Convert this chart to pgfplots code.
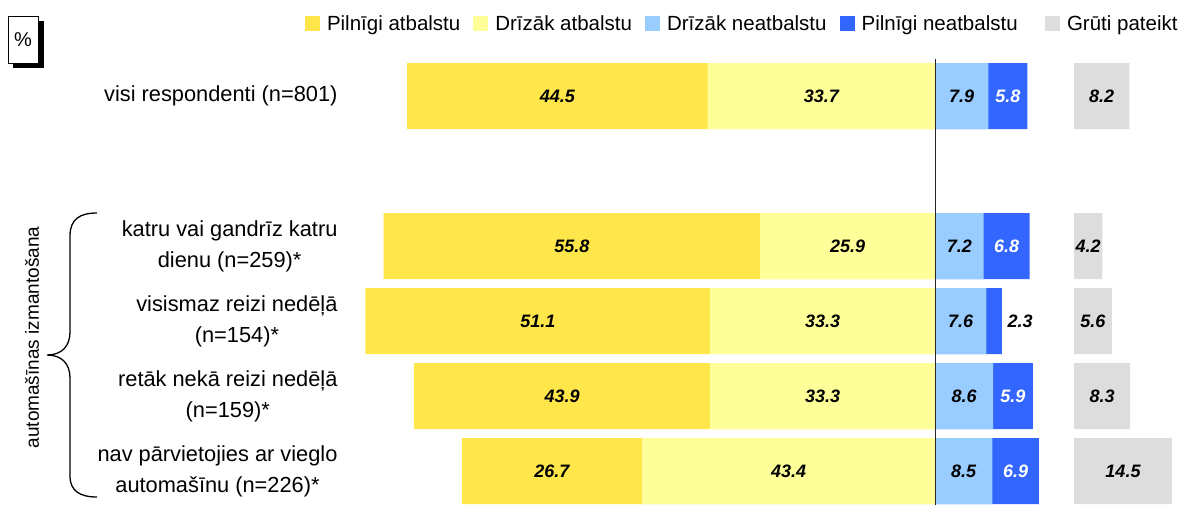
\documentclass[border=0pt]{standalone}
\usepackage{pgfplots}
\pgfplotsset{compat=1.18}
\usepackage{pgfplotstable}
\usepackage{fontspec}
\setmainfont{Liberation Sans}
\definecolor{cpa}{HTML}{FFE64B}
\definecolor{cda}{HTML}{FFFF99}
\definecolor{cdn}{HTML}{99CCFF}
\definecolor{cpn}{HTML}{3366FF}
\definecolor{cgp}{HTML}{DDDDDD}
\pgfplotstableread{
y pa da dn pn gp
0 44.5 33.7 7.9 5.8 8.2
2 55.8 25.9 7.2 6.8 4.2
3 51.1 33.3 7.6 2.3 5.6
4 43.9 33.3 8.6 5.9 8.3
5 26.7 43.4 8.5 6.9 14.5
}\data
\pgfplotsset{
  sq/.style={legend image code/.code={\fill[##1] (0pt,-7.5pt) rectangle (15pt,7.5pt);}},
  vlab/.style={only marks, mark=none, nodes near coords, point meta=explicit symbolic,
    nodes near coords align=center,
    every node near coord/.append style={anchor=center, font=\fontsize{18}{20}\selectfont\bfseries\itshape}},
}
\begin{document}
\begin{tikzpicture}[x=1pt,y=1pt]
\useasboundingbox (0,0) rectangle (1182,504);
% percent box
\fill[black] (13,436) rectangle (44,483);
\draw[fill=white, line width=0.8pt] (8,441) rectangle (38,488);
\node[font=\fontsize{20}{20}\selectfont] at (23,464.5) {\%};
% brace
\draw[line width=1.3pt] (97,291) .. controls (80,291) and (70,285) .. (70,268) -- (70,172)
  .. controls (70,158) and (62,149) .. (47,149)
  .. controls (62,149) and (70,140) .. (70,126) -- (70,28)
  .. controls (70,13) and (80,7) .. (97,7);
\node[rotate=90, font=\fontsize{19}{20}\selectfont] at (32,166.5) {automašīnas izmantošana};
\begin{axis}[
  at={(341pt,0pt)}, anchor=south west,
  scale only axis, width=837pt, height=475.5pt,
  xmin=-88, xmax=36, ymin=-0.9, ymax=5.44,
  y dir=reverse,
  axis line style={draw=none},
  major tick style={draw=none},
  xtick=\empty,
  ytick={0,2,3,4,5},
  yticklabels={visi respondenti (n=801), {katru vai gandrīz katru\\dienu (n=259)*}, {visismaz reizi nedēļā\\(n=154)*}, {retāk nekā reizi nedēļā\\(n=159)*}, {nav pārvietojies ar vieglo\\automašīnu (n=226)*}},
  yticklabel style={align=center, font=\fontsize{21.8}{31}\selectfont, text=black},
  bar width=0.88,
  sq,
  legend columns=-1,
  legend style={draw=none, fill=none, inner sep=0pt, outer sep=0pt, anchor=west,
    at={(-0.043,1.0105)}, font=\fontsize{20.5}{24}\selectfont,
    nodes={inner sep=0pt},
    /tikz/every odd column/.append style={column sep=7pt},
    /tikz/every even column/.append style={column sep=13pt}},
]
\addplot[xbar, fill=cpa, draw=none, forget plot] table[x expr=-\thisrow{pa}-\thisrow{da}, y=y]{\data};
\addplot[xbar, fill=cda, draw=none, forget plot] table[x expr=-\thisrow{da}, y=y]{\data};
\addplot[xbar, fill=cpn, draw=none, forget plot] table[x expr=\thisrow{dn}+\thisrow{pn}, y=y]{\data};
\addplot[xbar, fill=cdn, draw=none, forget plot] table[x expr=\thisrow{dn}, y=y]{\data};
\addplot[vlab, forget plot] table[x expr=-\thisrow{da}-\thisrow{pa}/2, y=y, meta=pa]{\data};
\addplot[vlab, forget plot] table[x expr=-\thisrow{da}/2, y=y, meta=da]{\data};
\addplot[vlab, forget plot] table[x expr=\thisrow{dn}/2, y=y, meta=dn]{\data};
\addplot[vlab, forget plot, skip coords between index={2}{3},
  every node near coord/.append style={text=white}] table[x expr=\thisrow{dn}+\thisrow{pn}/2, y=y, meta=pn]{\data};
\addplot[vlab, forget plot, skip coords between index={0}{2}, skip coords between index={3}{5}]
  table[x expr=\thisrow{dn}+\thisrow{pn}+2.7, y=y, meta=pn]{\data};
\draw[black!85, line width=1pt] (axis cs:0,-0.5) -- (axis cs:0,5.6);
\addlegendimage{fill=cpa, draw=none}\addlegendentry{Pilnīgi atbalstu}
\addlegendimage{fill=cda, draw=none}\addlegendentry{Drīzāk atbalstu}
\addlegendimage{fill=cdn, draw=none}\addlegendentry{Drīzāk neatbalstu}
\addlegendimage{fill=cpn, draw=none}\addlegendentry{Pilnīgi neatbalstu}
\end{axis}
\begin{axis}[
  at={(341pt,0pt)}, anchor=south west,
  scale only axis, width=837pt, height=475.5pt,
  xmin=-108.6, xmax=15.4, ymin=-0.9, ymax=5.44,
  y dir=reverse,
  axis line style={draw=none},
  major tick style={draw=none},
  xtick=\empty, ytick=\empty,
  bar width=0.88,
  sq,
  legend style={draw=none, fill=none, inner sep=0pt, outer sep=0pt, anchor=west,
    at={(0.8411,1.0105)}, font=\fontsize{20.5}{24}\selectfont,
    nodes={inner sep=0pt},
    /tikz/every odd column/.append style={column sep=7pt}},
]
\addplot[xbar, fill=cgp, draw=none, forget plot] table[x=gp, y=y]{\data};
\addplot[vlab, forget plot] table[x expr=\thisrow{gp}/2, y=y, meta=gp]{\data};
\addlegendimage{fill=cgp, draw=none}\addlegendentry{Grūti pateikt}
\end{axis}
\end{tikzpicture}
\end{document}
